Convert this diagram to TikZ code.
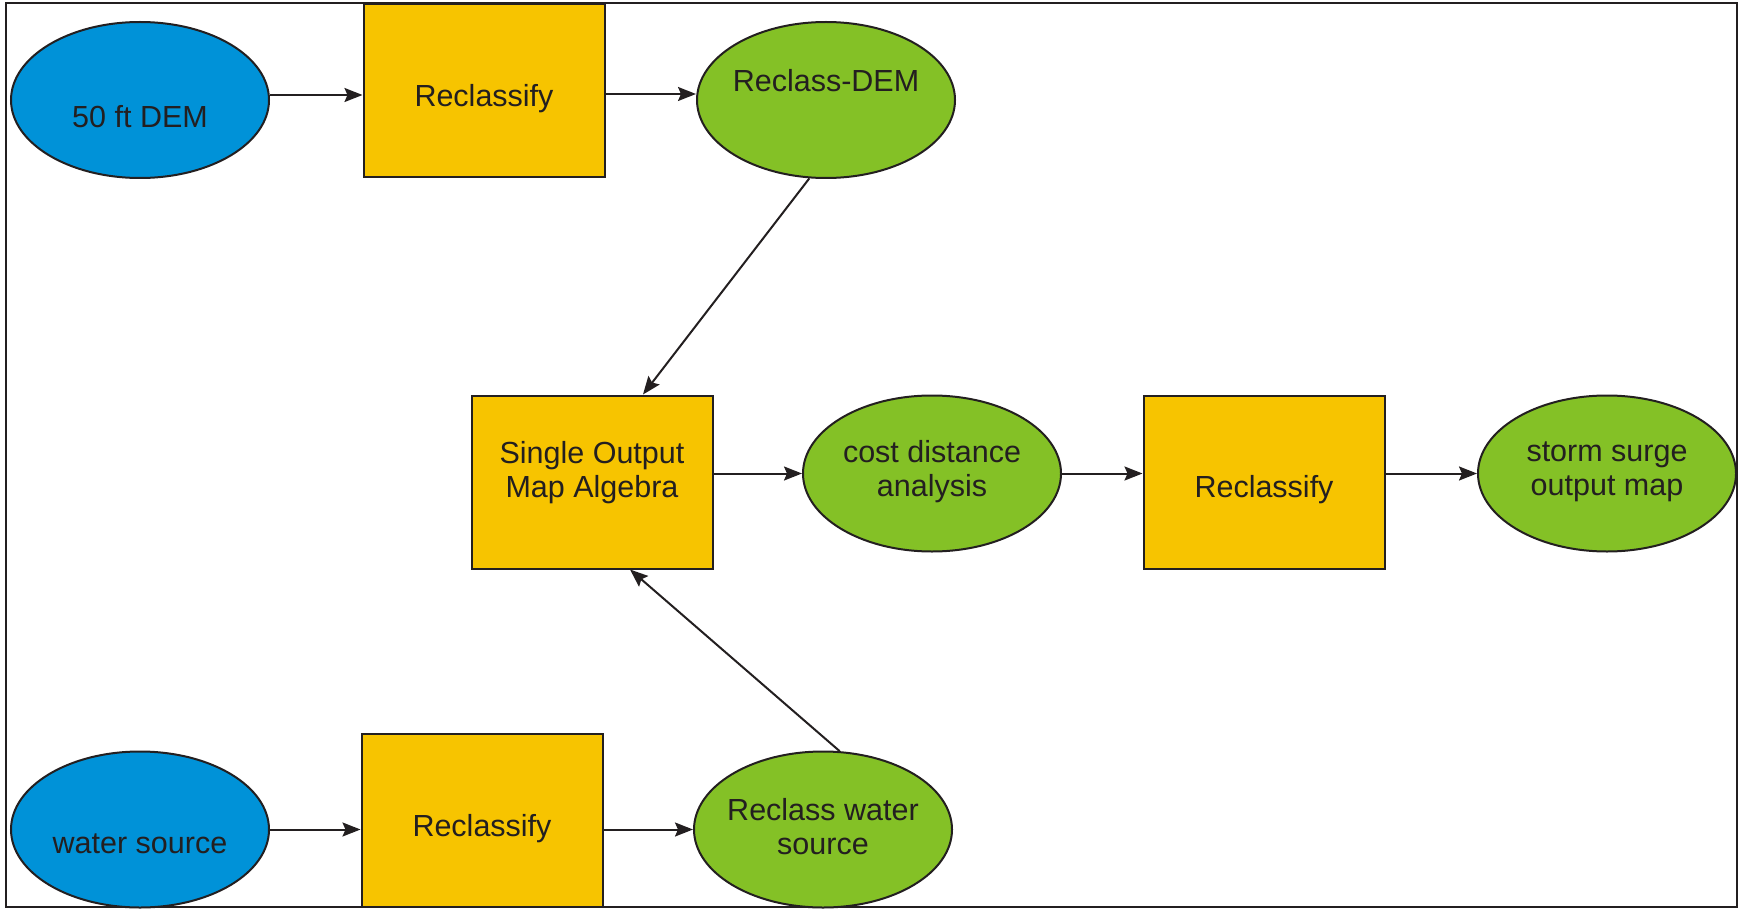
\documentclass[tikz,border=0pt]{standalone}
\usepackage{fontspec}
\setmainfont{Liberation Sans}
\usetikzlibrary{arrows.meta, shapes.geometric, positioning, calc}

\definecolor{srcblue}{RGB}{0,146,216}
\definecolor{procyellow}{RGB}{247,196,0}
\definecolor{outgreen}{RGB}{132,193,38}
\definecolor{inkgray}{RGB}{35,31,32}

\begin{document}
\begin{tikzpicture}[x=0.5pt, y=-0.5pt, >={Stealth[length=9pt, width=7pt, inset=1.5pt]},
    font=\fontsize{15.25pt}{17pt}\selectfont, text=inkgray,
    src/.style={ellipse, draw=inkgray, line width=1pt, fill=srcblue,
      minimum width=129pt, minimum height=78pt, inner sep=0pt},
    res/.style={src, fill=outgreen},
    proc/.style={rectangle, draw=inkgray, line width=1pt, fill=procyellow,
      minimum width=120.5pt, minimum height=86.5pt, inner sep=0pt},
    txt/.style={align=center, inner sep=0pt},
    arr/.style={->, draw=inkgray, line width=1pt}]

    \useasboundingbox (0,0) rectangle (1739,909);

    % 1. frame
    \draw[inkgray, line width=1pt] (6,3) rectangle (1737,907);

    % 2. top row: DEM branch
    \node[src]  (dem)  at (140,100) {};
    \node[proc] (rc1)  at (484,91)  {};
    \node[res]  (rdem) at (826,100) {};
    \node[txt] (demt)  at ([yshift=-8.5pt]dem)  {50 ft DEM};
    \node[txt] (rc1t)  at ([yshift=-4pt]rc1)    {Reclassify};
    \node[txt] (rdemt) at ([yshift=9.5pt]rdem)  {Reclass-DEM};

    % 3. middle row: algebra and output
    \node[proc] (alg)   at (592,482)    {};
    \node[res]  (cost)  at (932,473.5)  {};
    \node[proc] (rc3)   at (1264,482)   {};
    \node[res]  (surge) at (1607,473.5) {};
    \node[txt] (algt)   at ([yshift=4.75pt]alg)  {Single Output\\Map Algebra};
    \node[txt] (costt)  at ([yshift=0.75pt]cost) {cost distance\\analysis};
    \node[txt] (rc3t)   at ([yshift=-3.75pt]rc3) {Reclassify};
    \node[txt] (surget) at ([yshift=0.75pt]surge) {storm surge\\output map};

    % 4. bottom row: water branch
    \node[src]  (water)  at (140,829.5) {};
    \node[proc] (rc2)    at (482,820.5) {};
    \node[res]  (rwater) at (823,829.5) {};
    \node[txt] (watert)  at ([yshift=-7pt]water)   {water source};
    \node[txt] (rc2t)    at ([yshift=-4pt]rc2)     {Reclassify};
    \node[txt] (rwatert) at ([yshift=1.25pt]rwater) {Reclass water\\source};

    % 5. connectors
    \draw[arr] ([yshift=2.5pt]dem.east) -- ([yshift=2.5pt]dem.east -| rc1.west);
    \draw[arr] ([yshift=3pt]rdem.west -| rc1.east) -- ([yshift=3pt]rdem.west);
    \draw[arr] (rdem.-102) -- ([xshift=25.5pt]alg.north);
    \draw[arr] (rwater.78) -- ([xshift=19pt]alg.south);
    \draw[arr] (cost.west -| alg.east) -- (cost.west);
    \draw[arr] (cost.east) -- (cost.east -| rc3.west);
    \draw[arr] (surge.west -| rc3.east) -- (surge.west);
    \draw[arr] (water.east) -- (water.east -| rc2.west);
    \draw[arr] (rwater.west -| rc2.east) -- (rwater.west);

\end{tikzpicture}
\end{document}
